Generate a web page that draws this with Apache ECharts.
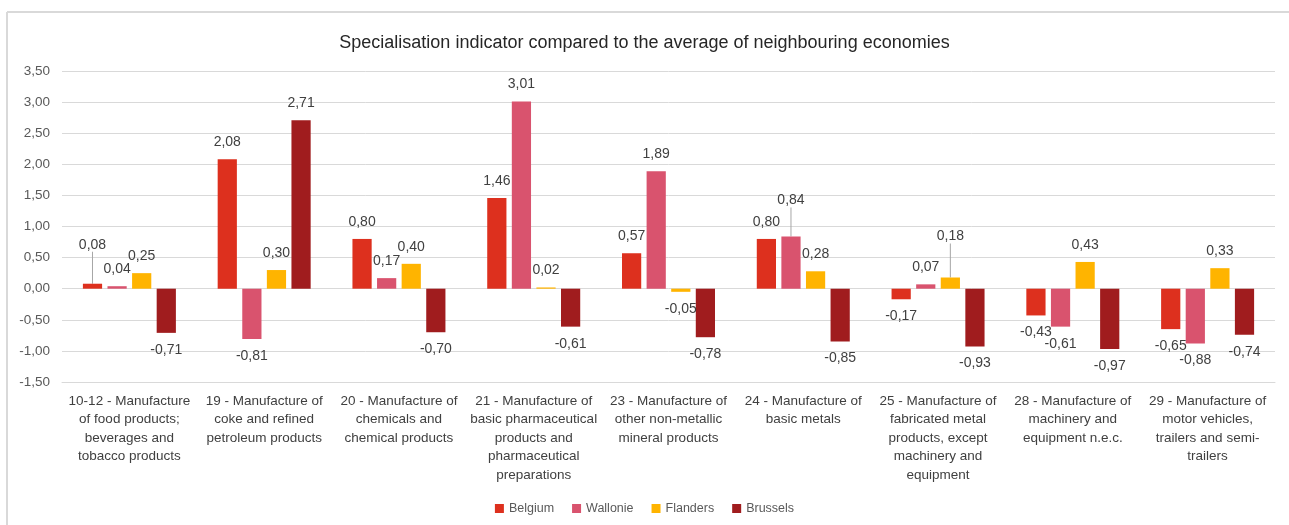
<!DOCTYPE html>
<html>
<head>
<meta charset="utf-8">
<script src="https://cdn.jsdelivr.net/npm/echarts@6/dist/echarts.min.js"></script>
<style>
  html, body { margin: 0; padding: 0; background: #fff; }
  #chart { width: 1289px; height: 525px; }
</style>
</head>
<body>
<div id="chart"></div>
<script>
// Industry categories (NACE divisions), with manual line breaks for the axis
const categories = [
  '10-12 - Manufacture\nof food products;\nbeverages and\ntobacco products',
  '19 - Manufacture of\ncoke and refined\npetroleum products',
  '20 - Manufacture of\nchemicals and\nchemical products',
  '21 - Manufacture of\nbasic pharmaceutical\nproducts and\npharmaceutical\npreparations',
  '23 - Manufacture of\nother non-metallic\nmineral products',
  '24 - Manufacture of\nbasic metals',
  '25 - Manufacture of\nfabricated metal\nproducts, except\nmachinery and\nequipment',
  '28 - Manufacture of\nmachinery and\nequipment n.e.c.',
  '29 - Manufacture of\nmotor vehicles,\ntrailers and semi-\ntrailers'
];

const belgium  = [0.08, 2.08, 0.80, 1.46, 0.57, 0.80, -0.17, -0.43, -0.65];
const wallonie = [0.04, -0.81, 0.17, 3.01, 1.89, 0.84, 0.07, -0.61, -0.88];
const flanders = [0.25, 0.30, 0.40, 0.02, -0.05, 0.28, 0.18, 0.43, 0.33];
const brussels = [-0.71, 2.71, -0.70, -0.61, -0.78, -0.85, -0.93, -0.97, -0.74];

const seriesNames = ['Belgium', 'Wallonie', 'Flanders', 'Brussels'];
const seriesColors = ['#DD301E', '#D9536E', '#FFB400', '#A01C1E'];

// Labels lifted above crowded bars, joined back by a leader line: [series, category, dy]
const liftedLabels = [[0, 0, -22], [1, 5, -19], [2, 6, -24]];

const fmt = v => v.toFixed(2).replace('.', ',');
const FONT = 'Liberation Sans';

function buildData(values, sIdx) {
  return values.map((v, i) => {
    const item = {
      value: v,
      label: { position: v >= 0 ? 'top' : 'bottom' }
    };
    if (liftedLabels.some(l => l[0] === sIdx && l[1] === i)) {
      item.labelLine = { show: true };
    }
    return item;
  });
}

const allValues = [belgium, wallonie, flanders, brussels];

const series = allValues.map((vals, s) => ({
  name: seriesNames[s],
  type: 'bar',
  barGap: '28%',
  barCategoryGap: '31%',
  itemStyle: { color: seriesColors[s] },
  data: buildData(vals, s),
  label: {
    show: true,
    distance: 10,
    color: '#404040',
    fontFamily: FONT,
    fontSize: 14,
    formatter: p => fmt(p.value)
  },
  labelLine: {
    show: false,
    lineStyle: { color: '#a6a6a6', width: 1 }
  },
  labelLayout: function (params) {
    const hit = liftedLabels.find(l => l[0] === s && l[1] === params.dataIndex);
    return hit ? { dy: hit[2] } : {};
  }
}));

const chart = echarts.init(document.getElementById('chart'), null, { renderer: 'canvas' });
chart.setOption({
  animation: false,
  backgroundColor: '#fff',
  textStyle: { fontFamily: FONT },
  title: {
    text: 'Specialisation indicator compared to the average of neighbouring economies',
    left: 'center',
    top: 29,
    textStyle: { fontFamily: FONT, fontSize: 18, fontWeight: 'normal', color: '#262626' }
  },
  graphic: [
    { type: 'line', shape: { x1: 7, y1: 12, x2: 1289, y2: 12 }, style: { stroke: '#d9d9d9', lineWidth: 2 } },
    { type: 'line', shape: { x1: 7, y1: 12, x2: 7, y2: 525 }, style: { stroke: '#d9d9d9', lineWidth: 2 } }
  ],
  legend: {
    bottom: 5,
    left: 'center',
    itemWidth: 9,
    itemHeight: 9,
    itemGap: 18,
    icon: 'rect',
    textStyle: { color: '#595959', fontFamily: FONT, fontSize: 12.5 },
    data: seriesNames
  },
  grid: { left: 62, right: 14, top: 71, bottom: 143, containLabel: false },
  xAxis: {
    type: 'category',
    data: categories,
    axisLine: { onZero: false, lineStyle: { color: '#d9d9d9', width: 1 } },
    axisTick: { show: false },
    axisLabel: {
      interval: 0,
      margin: 10,
      color: '#404040',
      fontFamily: FONT,
      fontSize: 13.5,
      lineHeight: 18.5,
      align: 'center'
    }
  },
  yAxis: {
    type: 'value',
    min: -1.5,
    max: 3.5,
    interval: 0.5,
    axisLine: { show: false },
    axisTick: { show: false },
    splitLine: { lineStyle: { color: '#d9d9d9', width: 1 } },
    axisLabel: {
      color: '#595959',
      fontFamily: FONT,
      fontSize: 13.5,
      margin: 12,
      formatter: v => fmt(v)
    }
  },
  series: series
});
</script>
</body>
</html>
